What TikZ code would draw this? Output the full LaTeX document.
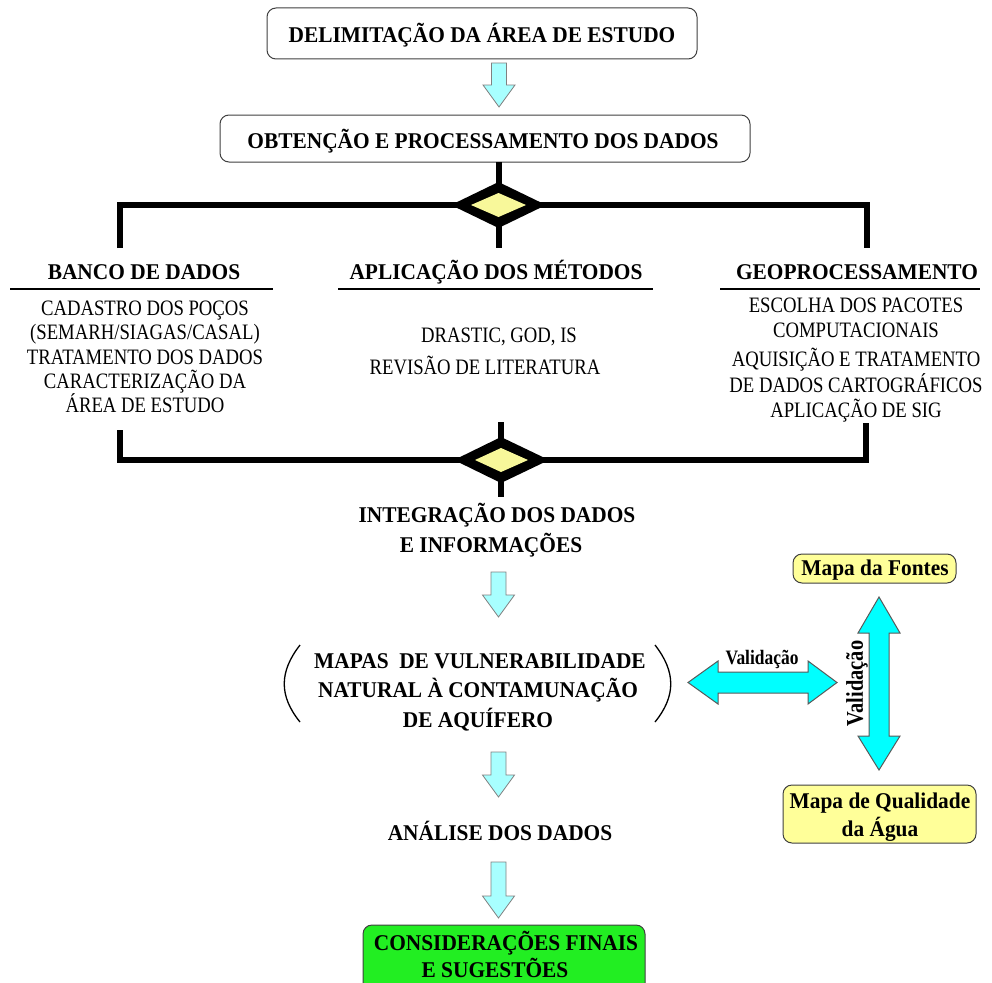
\documentclass[tikz,border=0pt]{standalone}
\usepackage{fontspec}
\setmainfont{Liberation Serif}
\newfontfamily\condfont[FakeStretch=0.85]{Liberation Serif}
\newfontfamily\bodyfont[FakeStretch=0.85]{Liberation Serif}
\newfontfamily\headfont[FakeStretch=0.95]{Liberation Serif}
\definecolor{lcyan}{HTML}{A8FFFF}
\definecolor{bcyan}{HTML}{00FFFF}
\definecolor{pyellow}{HTML}{FFFF99}
\definecolor{dyell}{HTML}{F8F89A}
\definecolor{bgreen}{HTML}{22EE22}
\newcommand\dnarrow[3]{%
  \filldraw[lightarr] (#1-7.5,#2) -- (#1+7.5,#2) -- (#1+7.5,#3-22) -- (#1+16,#3-22) -- (#1,#3) -- (#1-16,#3-22) -- (#1-7.5,#3-22) -- cycle;}
\begin{document}
\begin{tikzpicture}[x=1pt,y=-1pt,
  big/.style={font=\headfont\fontsize{22.5}{25}\selectfont\bfseries, inner sep=0pt, anchor=base},
  body/.style={font=\bodyfont\fontsize{22}{24}\selectfont, inner sep=0pt, anchor=base},
  wbox/.style={draw=black!75, line width=1pt, rounded corners=9pt, fill=white},
  ybox/.style={draw=black!75, line width=1pt, rounded corners=9pt, fill=pyellow},
  gbox/.style={draw=black!75, line width=1pt, rounded corners=9pt, fill=bgreen},
  lightarr/.style={fill=lcyan, draw=black!50, line width=0.8pt},
  bigarr/.style={fill=bcyan, draw=black!65, line width=1pt},
  bar/.style={line width=6pt, black},
  small/.style={font=\condfont\fontsize{20.5}{22}\selectfont\bfseries, inner sep=0pt},
  vsmall/.style={font=\condfont\fontsize{24}{26}\selectfont\bfseries, inner sep=0pt}]
\useasboundingbox (0,0) rectangle (992,982);
\clip (0,0) rectangle (992,982);
% boxes
\draw[wbox] (267,8) rectangle (697,59);
\node[big] (t1) at (482,42) {DELIMITAÇÃO DA ÁREA DE ESTUDO};
\dnarrow{499}{63}{107}
\draw[wbox] (220,115) rectangle (750,162);
\node[big] (t2) at (483,148) {OBTENÇÃO E PROCESSAMENTO DOS DADOS};
% top bracket
\draw[bar] (499,162) -- (499,185);
\draw[bar] (120,248) -- (120,205) -- (867,205) -- (867,248);
\draw[bar] (499,225) -- (499,248);
\fill[black] (451,205) -- (498.5,182) -- (546,205) -- (498.5,228) -- cycle;
\fill[dyell] (471,205) -- (498.5,193) -- (526,205) -- (498.5,217) -- cycle;
% headers
\node[big] (h1) at (144,279) {BANCO DE DADOS};
\node[big] (h2) at (496,279) {APLICAÇÃO DOS MÉTODOS};
\node[big] (h3) at (857,279) {GEOPROCESSAMENTO};
\draw[line width=1.2pt] (10,289) -- (273,289);
\draw[line width=1.2pt] (338,289) -- (653,289);
\draw[line width=1.2pt] (720,289) -- (980,289);
% left body
\node[body] at (145,315) {CADASTRO DOS POÇOS};
\node[body] at (145,339) {(SEMARH/SIAGAS/CASAL)};
\node[body] at (145,364) {TRATAMENTO DOS DADOS};
\node[body] at (145,388) {CARACTERIZAÇÃO DA};
\node[body] at (145,412) {ÁREA DE ESTUDO};
% middle body
\node[body] at (499,342) {DRASTIC, GOD, IS};
\node[body] at (485,374) {REVISÃO DE LITERATURA};
% right body
\node[body] at (856,312) {ESCOLHA DOS PACOTES};
\node[body] at (856,337) {COMPUTACIONAIS};
\node[body] at (856,366) {AQUISIÇÃO E TRATAMENTO};
\node[body] at (856,392) {DE DADOS CARTOGRÁFICOS};
\node[body] at (856,417) {APLICAÇÃO DE SIG};
% bottom bracket
\draw[bar] (120,430) -- (120,460) -- (866,460) -- (866,423);
\draw[bar] (501,422) -- (501,440);
\draw[bar] (501,480) -- (501,497);
\fill[black] (454,460) -- (501,437) -- (549,460) -- (501,483) -- cycle;
\fill[dyell] (475,460) -- (501,448) -- (528,460) -- (501,472) -- cycle;
% integration
\node[big] (i1) at (497,522) {INTEGRAÇÃO DOS DADOS};
\node[big] (i2) at (491,552) {E INFORMAÇÕES};
\dnarrow{498.5}{572}{617}
% maps
\node[big] (m1) at (480,668) {MAPAS~ DE VULNERABILIDADE};
\node[big] (m2) at (478,697) {NATURAL À CONTAMUNAÇÃO};
\node[big] (m3) at (478,727) {DE AQUÍFERO};
\draw[line width=1.3pt] (300,645) .. controls (279,672) and (279,696) .. (300,722);
\draw[line width=1.3pt] (655,645) .. controls (676,672) and (676,696) .. (655,722);
\dnarrow{498.5}{752}{797}
\node[big] (a1) at (500,840) {ANÁLISE DOS DADOS};
\dnarrow{498.5}{862}{918}
\draw[gbox] (363,925) rectangle (645,995);
\node[big] (c1) at (506,950) {CONSIDERAÇÕES FINAIS};
\node[big] (c2) at (495,977) {E SUGESTÕES};
% right side
\draw[ybox] (793,554) rectangle (956,583);
\node[big] (f1) at (875,575) {Mapa da Fontes};
\draw[ybox] (783,785) rectangle (976,843);
\node[big] (q1) at (880,808) {Mapa de Qualidade};
\node[big] (q2) at (880,836) {da Água};
\filldraw[bigarr] (688,682.5) -- (718,661) -- (718,672) -- (808,672) -- (808,661) -- (837,682.5) -- (808,704) -- (808,693) -- (718,693) -- (718,704) -- cycle;
\node[small, anchor=base] (v1) at (762,664) {Validação};
\filldraw[bigarr] (879,597) -- (900,633) -- (889,633) -- (889,736) -- (900,736) -- (879,770) -- (858,736) -- (869,736) -- (869,633) -- (858,633) -- cycle;
\node[vsmall, rotate=90] (v2) at (857,683.5) {Validação};
\end{tikzpicture}
\end{document}
